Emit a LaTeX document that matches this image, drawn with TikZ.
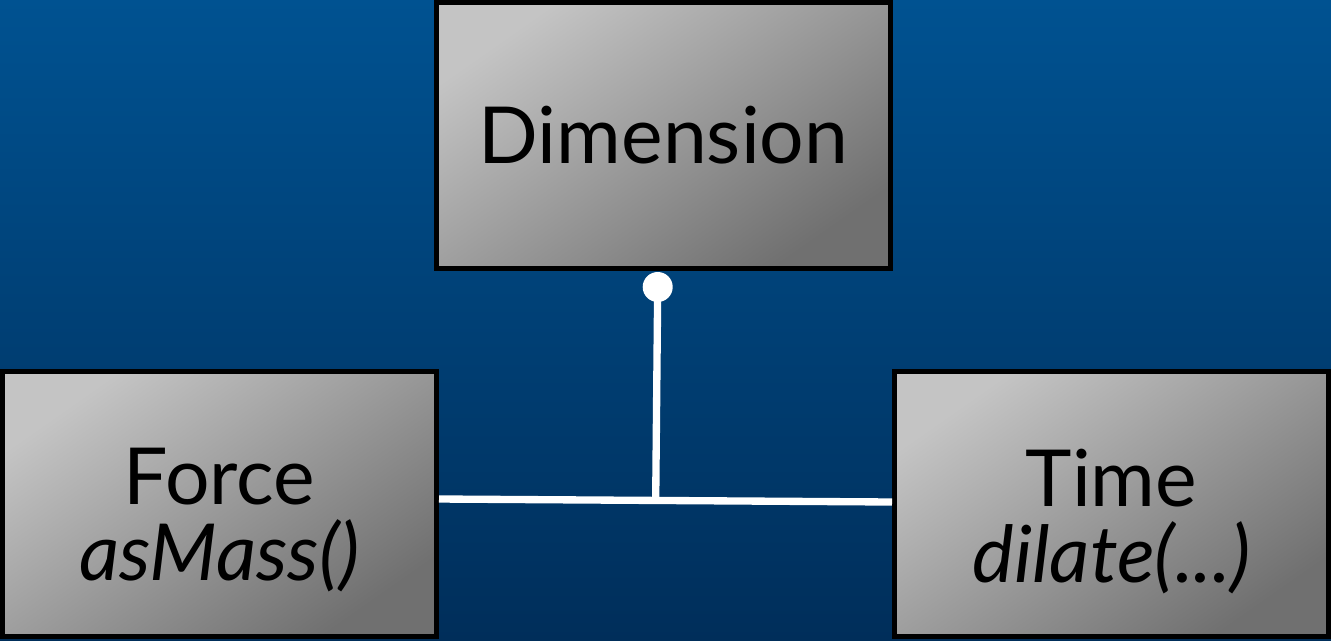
\documentclass[tikz,border=0pt]{standalone}
\usepackage{fontspec}
\setmainfont{Lato}
\definecolor{bgtop}{RGB}{0,82,145}
\definecolor{bgbot}{RGB}{0,46,90}
\definecolor{boxlight}{RGB}{196,196,196}
\definecolor{boxdark}{RGB}{112,112,112}
\begin{document}
\begin{tikzpicture}[x=0.75pt,y=-0.75pt,
  umlbox/.style={rectangle, draw=black, line width=3.75pt, inner sep=0pt,
    top color=boxlight, bottom color=boxdark, shading angle=35},
  umltext/.style={align=center, inner sep=0pt, font=\fontsize{59}{57}\selectfont},
  conn/.style={draw=white, line width=5.5pt},
  dotend/.style={circle, fill=white, inner sep=0pt, minimum size=22.5pt}]
\useasboundingbox (0,0) rectangle (1331,640);
\shade[top color=bgtop, bottom color=bgbot] (0,0) rectangle (1331,640);
\node[umlbox, umltext, minimum width=340.5pt, minimum height=199.5pt] (dim) at (663.5,135.5) {Dimension};
\node[umlbox, minimum width=325.5pt, minimum height=198.75pt] (force) at (219.5,504) {};
\node[umlbox, minimum width=325.5pt, minimum height=198.75pt] (time) at (1111.5,504) {};
\node[umltext] (forcetxt) at (219.5,520) {Force\\\itshape asMass()};
\node[umltext] (timetxt) at (1111.5,522) {Time\\\itshape dilate(...)};
\node[dotend] (dot) at (657.7,287) {};
\coordinate (junc) at (655.7,499);
\draw[conn] ([yshift=3.75pt]force.east) -- ([yshift=1.5pt]time.west);
\draw[conn] (junc) -- (dot.center);
\end{tikzpicture}
\end{document}
